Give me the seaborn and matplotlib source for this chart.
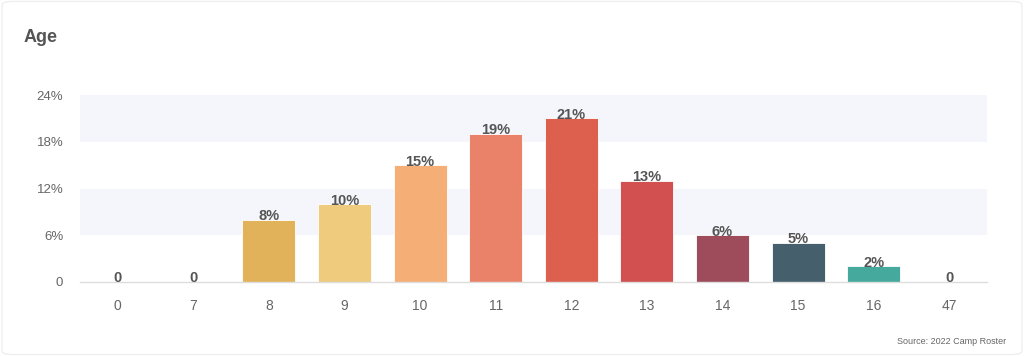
import pandas as pd
import matplotlib.pyplot as plt
import seaborn as sns
from matplotlib.patches import FancyBboxPatch

# data
ages = ['0', '7', '8', '9', '10', '11', '12', '13', '14', '15', '16', '47']
share = [0, 0, 8, 10, 15, 19, 21, 13, 6, 5, 2, 0]
colors = ['#E2B25A', '#E2B25A', '#E2B25A', '#EFCB7D', '#F4AE76', '#EA826A',
          '#DD604F', '#D25050', '#9E4C5B', '#45606C', '#46A99D', '#46A99D']
yticks = [0, 6, 12, 18, 24]
ytick_labels = ['0', '6%', '12%', '18%', '24%']

df = pd.DataFrame({'age': ages, 'share': share})

sns.set_theme(style='white')
plt.rcParams['font.family'] = ['Liberation Sans', 'DejaVu Sans']

fig = plt.figure(figsize=(10.24, 3.56), dpi=100)
fig.patch.set_facecolor('white')
# card border
fig.patches.append(FancyBboxPatch((0.002, 0.004), 0.996, 0.992,
                                  boxstyle='round,pad=0,rounding_size=0.01',
                                  transform=fig.transFigure, fill=False,
                                  edgecolor='#EFEFEF', linewidth=1))
ax = fig.add_axes([0.078, 0.208, 0.886, 0.525])

# alternating bands
for lo, hi in [(6, 12), (18, 24)]:
    ax.axhspan(lo, hi, color='#F4F6FB', zorder=0, lw=0)

sns.barplot(data=df, x='age', y='share', hue='age', palette=colors,
            order=ages, hue_order=ages, legend=False, width=0.7,
            saturation=1, ax=ax, zorder=2, edgecolor='#FFFFFF', linewidth=0.6)

for i, v in enumerate(share):
    lbl = '0' if v == 0 else f'{v}%'
    ax.annotate(lbl, (i, v), xytext=(0, -2.5), textcoords='offset points',
                ha='center', va='bottom', fontsize=10.5, fontweight='bold',
                color='#555555', zorder=3)

ax.set_xlim(-0.5, len(ages) - 0.5)
ax.set_ylim(0, 24)
ax.set_yticks(yticks)
ax.set_yticklabels(ytick_labels)
ax.set_xlabel('')
ax.set_ylabel('')
for s in ['top', 'right', 'left']:
    ax.spines[s].set_visible(False)
ax.spines['bottom'].set_color('#DDDDDD')
ax.spines['bottom'].set_linewidth(1)
ax.tick_params(axis='y', length=0, labelsize=9.5, labelcolor='#666666', pad=12)
ax.tick_params(axis='x', length=0, labelsize=10, labelcolor='#666666', pad=12)
# boundary ticks between categories
ax.set_xticks([i - 0.5 for i in range(len(ages) + 1)], minor=True)
ax.tick_params(axis='x', which='minor', length=7, color='#DDDDDD', width=1)

fig.text(24 / 1024, 1 - 38 / 356, 'Age', fontsize=13, fontweight='bold',
         color='#555555', va='center', ha='left')
fig.text(1006 / 1024, 1 - 341 / 356, 'Source: 2022 Camp Roster', fontsize=6.5,
         color='#666666', va='center', ha='right')

fig.savefig('out.png', dpi=100)
